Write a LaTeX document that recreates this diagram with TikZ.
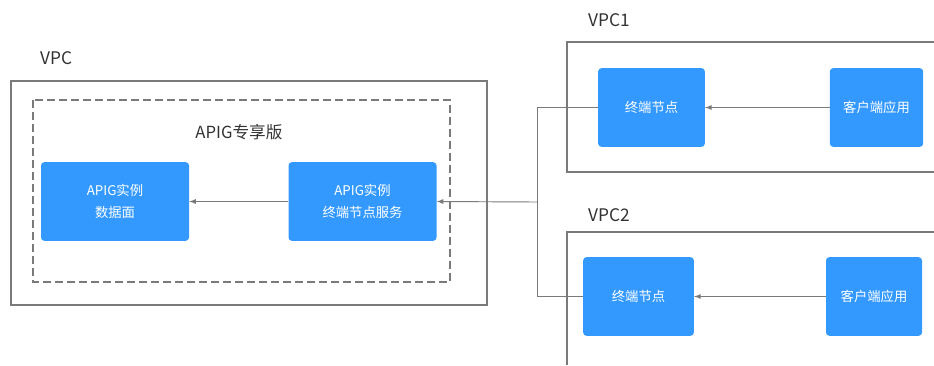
\documentclass[tikz,border=0pt]{standalone}
\usepackage{fontspec}
\setmainfont{Noto Sans CJK SC}
\usepackage{tikz}
\usetikzlibrary{arrows,positioning}
\definecolor{boxblue}{HTML}{3399FF}
\definecolor{linegray}{HTML}{7A7A7A}
\definecolor{labelgray}{HTML}{333333}
\tikzset{
  bluebox/.style={rectangle, fill=boxblue, rounded corners=2.5pt, text=white, align=center,
    font=\fontsize{10}{16.5}\selectfont, inner sep=0pt},
  vpclabel/.style={text=labelgray, font=\fontsize{13}{15}\selectfont, anchor=base west, inner sep=0pt},
  frame/.style={draw=linegray, line width=1pt},
  conn/.style={draw=linegray, line width=0.7pt}
}

\begin{document}
\begin{tikzpicture}[x=0.75pt,y=-0.75pt,>=latex]
      \useasboundingbox (0,0) rectangle (934,365);
      % left VPC
      \node[vpclabel] at (40,64) (vpc) {VPC};
      \draw[frame] (11,81) rectangle (487,305);
      \draw[draw=linegray, line width=0.8pt, dash pattern=on 6pt off 3pt] (33,100) rectangle (450,282);
      \node[text=labelgray, font=\fontsize{12.5}{14}\selectfont] at (239,132) (ded) {APIG专享版};
      \node[bluebox, minimum width=111pt, minimum height=59pt] at (115,201.5) (data) {APIG实例\\数据面};
      \node[bluebox, minimum width=111pt, minimum height=59pt] at (362.5,201.5) (svc) {APIG实例\\终端节点服务};
      % VPC1
      \node[vpclabel] at (588,26) (vpca) {VPC1};
      \draw[frame] (934,42) -- (567,42) -- (567,172) -- (934,172);
      \node[bluebox, minimum width=80pt, minimum height=59pt] at (651.5,107.5) (epa) {终端节点};
      \node[bluebox, minimum width=70pt, minimum height=59pt] at (876.5,107.5) (appa) {客户端应用};
      % VPC2
      \node[vpclabel] at (588,221) (vpcb) {VPC2};
      \draw[frame] (934,232) -- (567,232) -- (567,365);
      \node[bluebox, minimum width=83pt, minimum height=59pt] at (638.5,296.5) (epb) {终端节点};
      \node[bluebox, minimum width=72pt, minimum height=59pt] at (874,296.5) (appb) {客户端应用};
      % connectors
      \coordinate (jn) at (537,202);
      \draw[conn,->] (svc.west) -- (data.east);
      \draw[conn,->] (appa.west) -- (epa.east);
      \draw[conn,->] (appb.west) -- (epb.east);
      \draw[conn] (epa.west) -| (jn |- epb.west) -- (epb.west);
      \draw[conn,->] (jn) -- (svc.east);
\end{tikzpicture}
\end{document}
